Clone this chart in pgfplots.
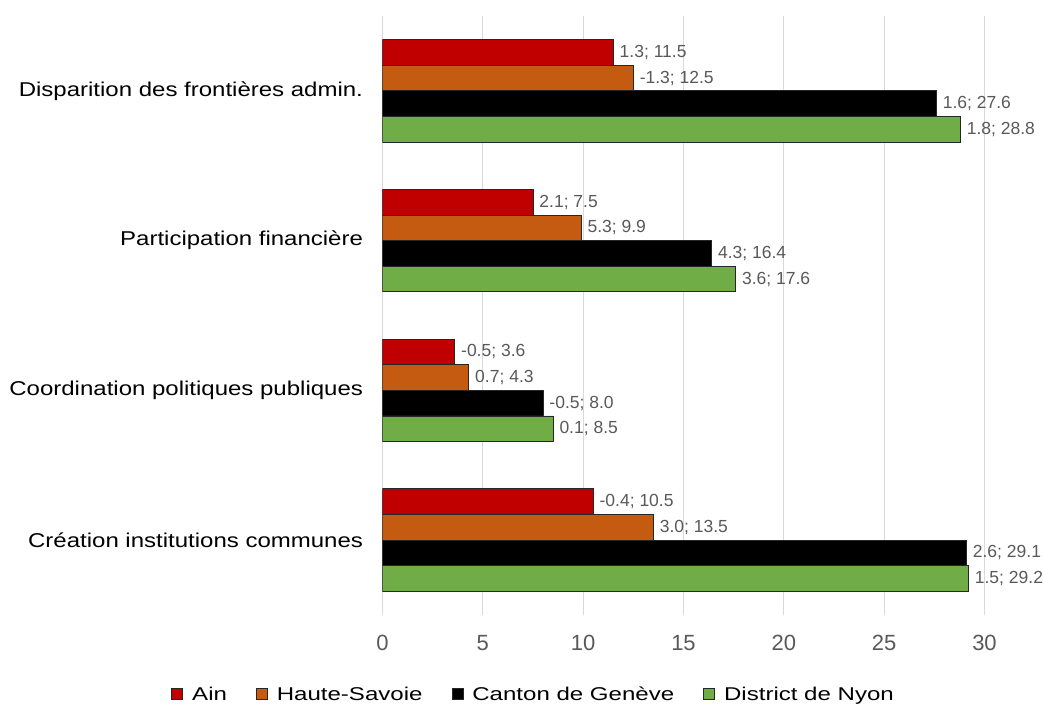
\documentclass[border=0pt]{standalone}
\usepackage{fontspec}
\setmainfont{Liberation Sans}
\newfontfamily\widefont[FakeStretch=1.2]{Liberation Sans}
\newfontfamily\legfont[FakeStretch=1.3]{Liberation Sans}
\usepackage{pgfplots}
\usepackage{pgfplotstable}
\pgfplotsset{compat=1.18}
\definecolor{cAin}{HTML}{C00000}
\definecolor{cHS}{HTML}{C55A11}
\definecolor{cGE}{HTML}{000000}
\definecolor{cNY}{HTML}{70AD47}
\definecolor{lbl}{HTML}{595959}
\definecolor{grd}{HTML}{D9D9D9}
\definecolor{edge}{HTML}{262626}
\def\sep{\char59\ }
\pgfplotsset{
  sqlegend/.style={legend image code/.code={\draw[##1,draw=edge,line width=0.8bp] (0bp,-5.5bp) rectangle (11bp,5.5bp); \path (18bp,0bp);}},
}
\pgfplotstableread[col sep=comma, row sep=\\]{
v,c,l\\
11.5,3,{1.3\sep 11.5}\\
7.5,2,{2.1\sep 7.5}\\
3.6,1,{-0.5\sep 3.6}\\
10.5,0,{-0.4\sep 10.5}\\
}\tAin
\pgfplotstableread[col sep=comma, row sep=\\]{
v,c,l\\
12.5,3,{-1.3\sep 12.5}\\
9.9,2,{5.3\sep 9.9}\\
4.3,1,{0.7\sep 4.3}\\
13.5,0,{3.0\sep 13.5}\\
}\tHS
\pgfplotstableread[col sep=comma, row sep=\\]{
v,c,l\\
27.6,3,{1.6\sep 27.6}\\
16.4,2,{4.3\sep 16.4}\\
8.0,1,{-0.5\sep 8.0}\\
29.1,0,{2.6\sep 29.1}\\
}\tGE
\pgfplotstableread[col sep=comma, row sep=\\]{
v,c,l\\
28.8,3,{1.8\sep 28.8}\\
17.6,2,{3.6\sep 17.6}\\
8.5,1,{0.1\sep 8.5}\\
29.2,0,{1.5\sep 29.2}\\
}\tNY
\begin{document}
\begin{tikzpicture}
\useasboundingbox (-382.5bp,-89bp) rectangle (661.5bp,615bp);
\begin{axis}[
  at={(0,0)}, anchor=south west,
  scale only axis, width=602bp, height=599bp,
  xmin=0, xmax=30, ymin=-0.5, ymax=3.5,
  xbar, bar width=25.6bp,
  xtick={0,5,...,30},
  ytick={0,1,2,3},
  yticklabels={Création institutions communes, Coordination politiques publiques, Participation financière, Disparition des frontières admin.},
  axis line style={draw=none},
  major tick length=0pt,
  xmajorgrids, grid style={draw=grd, line width=0.9bp},
  /pgf/number format/assume math mode=true,
  xticklabel style={font=\fontsize{22bp}{24bp}\selectfont, text=lbl, yshift=-17bp},
  yticklabel style={font=\widefont\fontsize{20bp}{23bp}\selectfont, text=black, xshift=-16bp},
  point meta=explicit symbolic,
  nodes near coords={\pgfplotspointmeta},
  every node near coord/.append style={font=\fontsize{17.5bp}{20bp}\selectfont, text=lbl, anchor=west, inner xsep=5bp, xshift=1bp},
  legend columns=4,
  legend cell align=left,
  legend style={at={(0.251,-0.132)}, anchor=center, draw=none, fill=none,
    font=\legfont\fontsize{18.5bp}{22bp}\selectfont,
    /tikz/every even column/.append style={column sep=27bp},
    inner sep=0pt},
]
\addplot[fill=cAin, draw=edge, line width=0.9bp, bar shift=38.4bp, sqlegend] table[x=v, y=c, meta=l] {\tAin};
\addplot[fill=cHS, draw=edge, line width=0.9bp, bar shift=12.8bp, sqlegend] table[x=v, y=c, meta=l] {\tHS};
\addplot[fill=cGE, draw=edge, line width=0.9bp, bar shift=-12.8bp, sqlegend] table[x=v, y=c, meta=l] {\tGE};
\addplot[fill=cNY, draw=edge, line width=0.9bp, bar shift=-38.4bp, sqlegend] table[x=v, y=c, meta=l] {\tNY};
\legend{Ain, Haute-Savoie, Canton de Genève, District de Nyon}
\end{axis}
\end{tikzpicture}
\end{document}
